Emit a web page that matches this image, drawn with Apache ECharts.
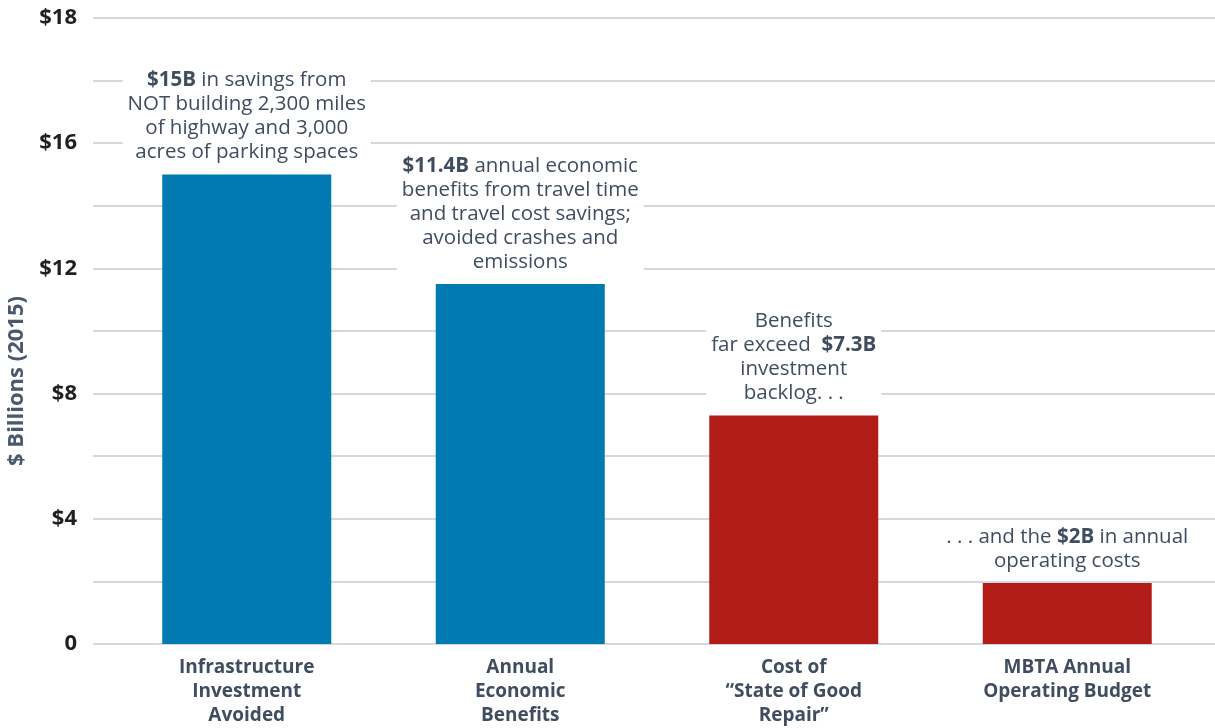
<!DOCTYPE html>
<html>
<head>
<meta charset="utf-8">
<script src="https://cdn.jsdelivr.net/npm/echarts@6/dist/echarts.min.js"></script>
<style>
html, body { margin: 0; padding: 0; background: #fff; }
#chart { width: 1215px; height: 728px; }
</style>
</head>
<body>
<div id="chart"></div>
<script>
var categories = ['Infrastructure\nInvestment\nAvoided', 'Annual\nEconomic\nBenefits', 'Cost of\n\u201cState of Good\nRepair\u201d', 'MBTA Annual\nOperating Budget'];
var values = [15, 11.5, 7.3, 1.95];
var kinds = ['benefit', 'benefit', 'cost', 'cost'];
var notes = [
    '{b|$15B} in savings from\nNOT building 2,300 miles\nof highway and 3,000\nacres of parking spaces',
    '{b|$11.4B} annual economic\nbenefits from travel time\nand travel cost savings;\navoided crashes and\nemissions',
    'Benefits\nfar exceed  {b|$7.3B}\ninvestment\nbacklog. . .',
    '. . . and the {b|$2B} in annual\noperating costs'
];
// the printed axis labels (top line is marked $18 in the original)
var tickLabels = { 0: '0', 4: '$4', 8: '$8', 12: '$12', 16: '$16', 20: '$18' };

var kindColor = { benefit: '#007ab1', cost: '#b21c18' };
var textColor = '#3f4d5f';
var font = 'Open Sans';

var chart = echarts.init(document.getElementById('chart'));

var barData = values.map(function (v, i) {
    return {
        value: v,
        itemStyle: { color: kindColor[kinds[i]] },
        label: { formatter: notes[i] }
    };
});

var option = {
    backgroundColor: '#fff',
    animation: false,
    grid: [
        { left: 93, right: 0, top: 18, bottom: 84, outerBoundsMode: 'none' },
        { left: 110, width: 1094, top: 18, bottom: 84, outerBoundsMode: 'none' }
    ],
    xAxis: [{
        type: 'category',
        gridIndex: 1,
        data: categories,
        axisLine: { show: false },
        axisTick: { show: false },
        axisLabel: {
            margin: 12,
            color: textColor,
            fontFamily: font,
            fontWeight: 'bold',
            fontSize: 19,
            lineHeight: 24,
            interval: 0
        }
    }, {
        type: 'value',
        gridIndex: 0,
        show: false
    }],
    yAxis: [{
        type: 'value',
        gridIndex: 0,
        min: 0,
        max: 20,
        interval: 2,
        name: '$ Billions (2015)',
        nameLocation: 'middle',
        nameRotate: 90,
        nameGap: 65,
        nameTextStyle: {
            color: '#4a596b',
            fontFamily: font,
            fontWeight: 'bold',
            fontSize: 22,
            padding: [0, 100, 0, 0]
        },
        axisLine: { show: false },
        axisTick: { show: false },
        axisLabel: {
            margin: 16,
            color: '#231f20',
            fontFamily: font,
            fontWeight: 'bold',
            fontSize: 22,
            formatter: function (v) {
                return tickLabels[v] !== undefined ? tickLabels[v] : '';
            }
        },
        splitLine: { lineStyle: { color: '#c5cdd6', width: 1.5 } }
    }, {
        type: 'value',
        gridIndex: 1,
        min: 0,
        max: 20,
        show: false
    }],
    series: [{
        type: 'bar',
        xAxisIndex: 0,
        yAxisIndex: 1,
        barWidth: 169,
        data: barData,
        label: {
            show: true,
            position: 'top',
            distance: 8,
            align: 'center',
            color: textColor,
            fontFamily: font,
            fontSize: 20.5,
            lineHeight: 24,
            backgroundColor: '#fff',
            padding: [2, 5, 2, 5],
            rich: {
                b: {
                    color: textColor,
                    fontFamily: font,
                    fontWeight: 'bold',
                    fontSize: 20.5,
                    lineHeight: 24
                }
            }
        }
    }]
};

chart.setOption(option);
</script>
</body>
</html>
